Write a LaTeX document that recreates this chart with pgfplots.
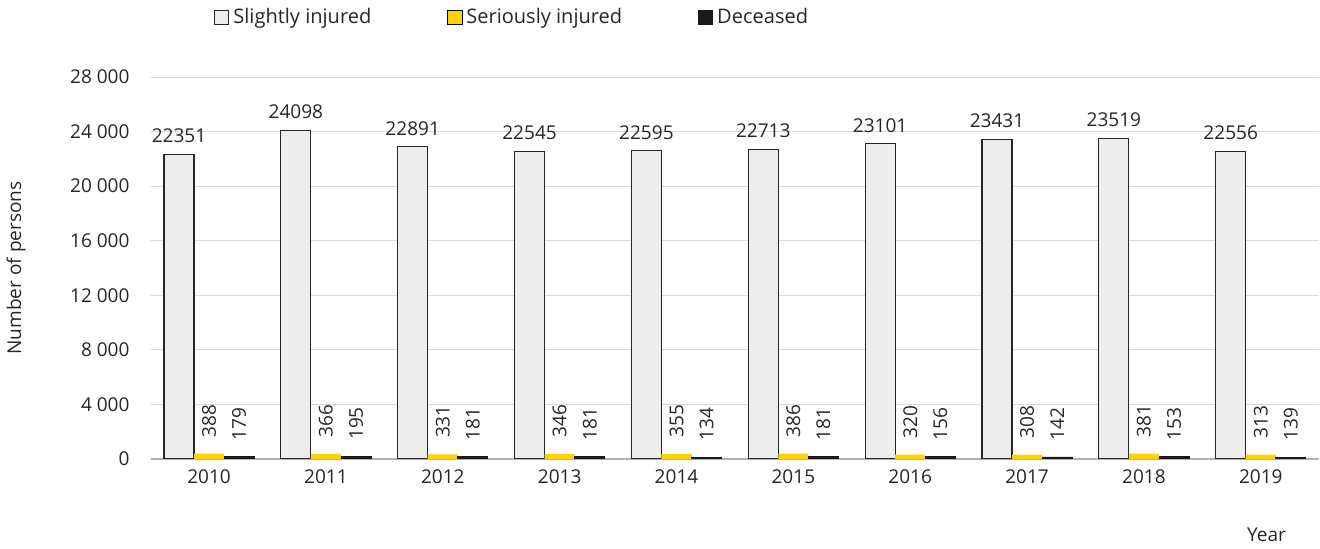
\documentclass[border=0pt]{standalone}
\usepackage{pgfplots}
\usepackage{pgfplotstable}
\pgfplotsset{compat=1.18}
\usepackage{fontspec}
\setmainfont{Open Sans}

\definecolor{slightfill}{HTML}{EDEDED}
\definecolor{seryellow}{HTML}{FFD200}
\definecolor{deadfill}{HTML}{1A1A1A}
\definecolor{gridgray}{HTML}{D9D9D9}
\definecolor{txt}{HTML}{262626}

\pgfplotstableread{
idx year slight serious deceased
0 2010 22351 388 179
1 2011 24098 366 195
2 2012 22891 331 181
3 2013 22545 346 181
4 2014 22595 355 134
5 2015 22713 386 181
6 2016 23101 320 156
7 2017 23431 308 142
8 2018 23519 381 153
9 2019 22556 313 139
}\injuries

\begin{document}
\begin{tikzpicture}
\begin{axis}[
    scale only axis,
    width=583pt, height=190.5pt,
    ybar=0pt,
    bar width=15pt,
    xmin=-0.5, xmax=9.5,
    ymin=0, ymax=28000,
    ytick={0,4000,...,28000},
    scaled y ticks=false,
    xtick=data,
    xticklabels={2010,2011,2012,2013,2014,2015,2016,2017,2018,2019},
    font=\fontsize{9.5pt}{11pt}\selectfont,
    /pgf/number format/assume math mode=true,
    yticklabel style={/pgf/number format/1000 sep={\ }, xshift=-7pt, text=txt},
    xticklabel style={text=txt, yshift=-2pt},
    axis x line*=bottom,
    axis y line*=left,
    y axis line style={draw=none},
    x axis line style={draw=gray!60, line width=0.8pt},
    major tick length=0pt,
    ymajorgrids,
    grid style={gridgray, line width=0.5pt},
    ylabel={Number of persons},
    ylabel style={at={(axis description cs:-0.115,0.5)}, anchor=center, text=txt},
    xlabel={Year},
    xlabel style={at={(axis description cs:0.955,-0.2)}, anchor=center, text=txt},
    nodes near coords,
    nodes near coords style={font=\fontsize{9.5pt}{11pt}\selectfont, text=txt,
        /pgf/number format/1000 sep={}},
    legend style={at={(axis description cs:0.054,1.157)}, anchor=west,
        draw=none, legend columns=3, inner xsep=0pt,
        /tikz/every even column/.append style={column sep=36pt},
        font=\fontsize{10pt}{12pt}\selectfont, text=txt},
    legend image code/.code={\draw[#1] (0pt,-3.5pt) rectangle (7pt,3.5pt);},
]
\addplot[fill=slightfill, draw=black!85, line width=0.6pt,
    nodes near coords style={anchor=south, yshift=2pt}]
    table[x=idx, y=slight] {\injuries};
\addplot[fill=seryellow, draw=none,
    nodes near coords style={rotate=90, anchor=west, inner xsep=8pt}]
    table[x=idx, y=serious] {\injuries};
\addplot[fill=deadfill, draw=deadfill, line width=0.4pt,
    nodes near coords style={rotate=90, anchor=west, inner xsep=8pt}]
    table[x=idx, y=deceased] {\injuries};
\legend{Slightly injured, Seriously injured, Deceased}
\node[anchor=east, font=\fontsize{10pt}{12pt}\selectfont\bfseries, text=txt, inner sep=0pt]
    at (axis description cs:0.998,1.157) {OTI 2020};
% page margins as in the reference
\path (axis description cs:-0.1304,-0.236) rectangle (axis description cs:1.0017,1.21);
\end{axis}
\end{tikzpicture}
\end{document}
